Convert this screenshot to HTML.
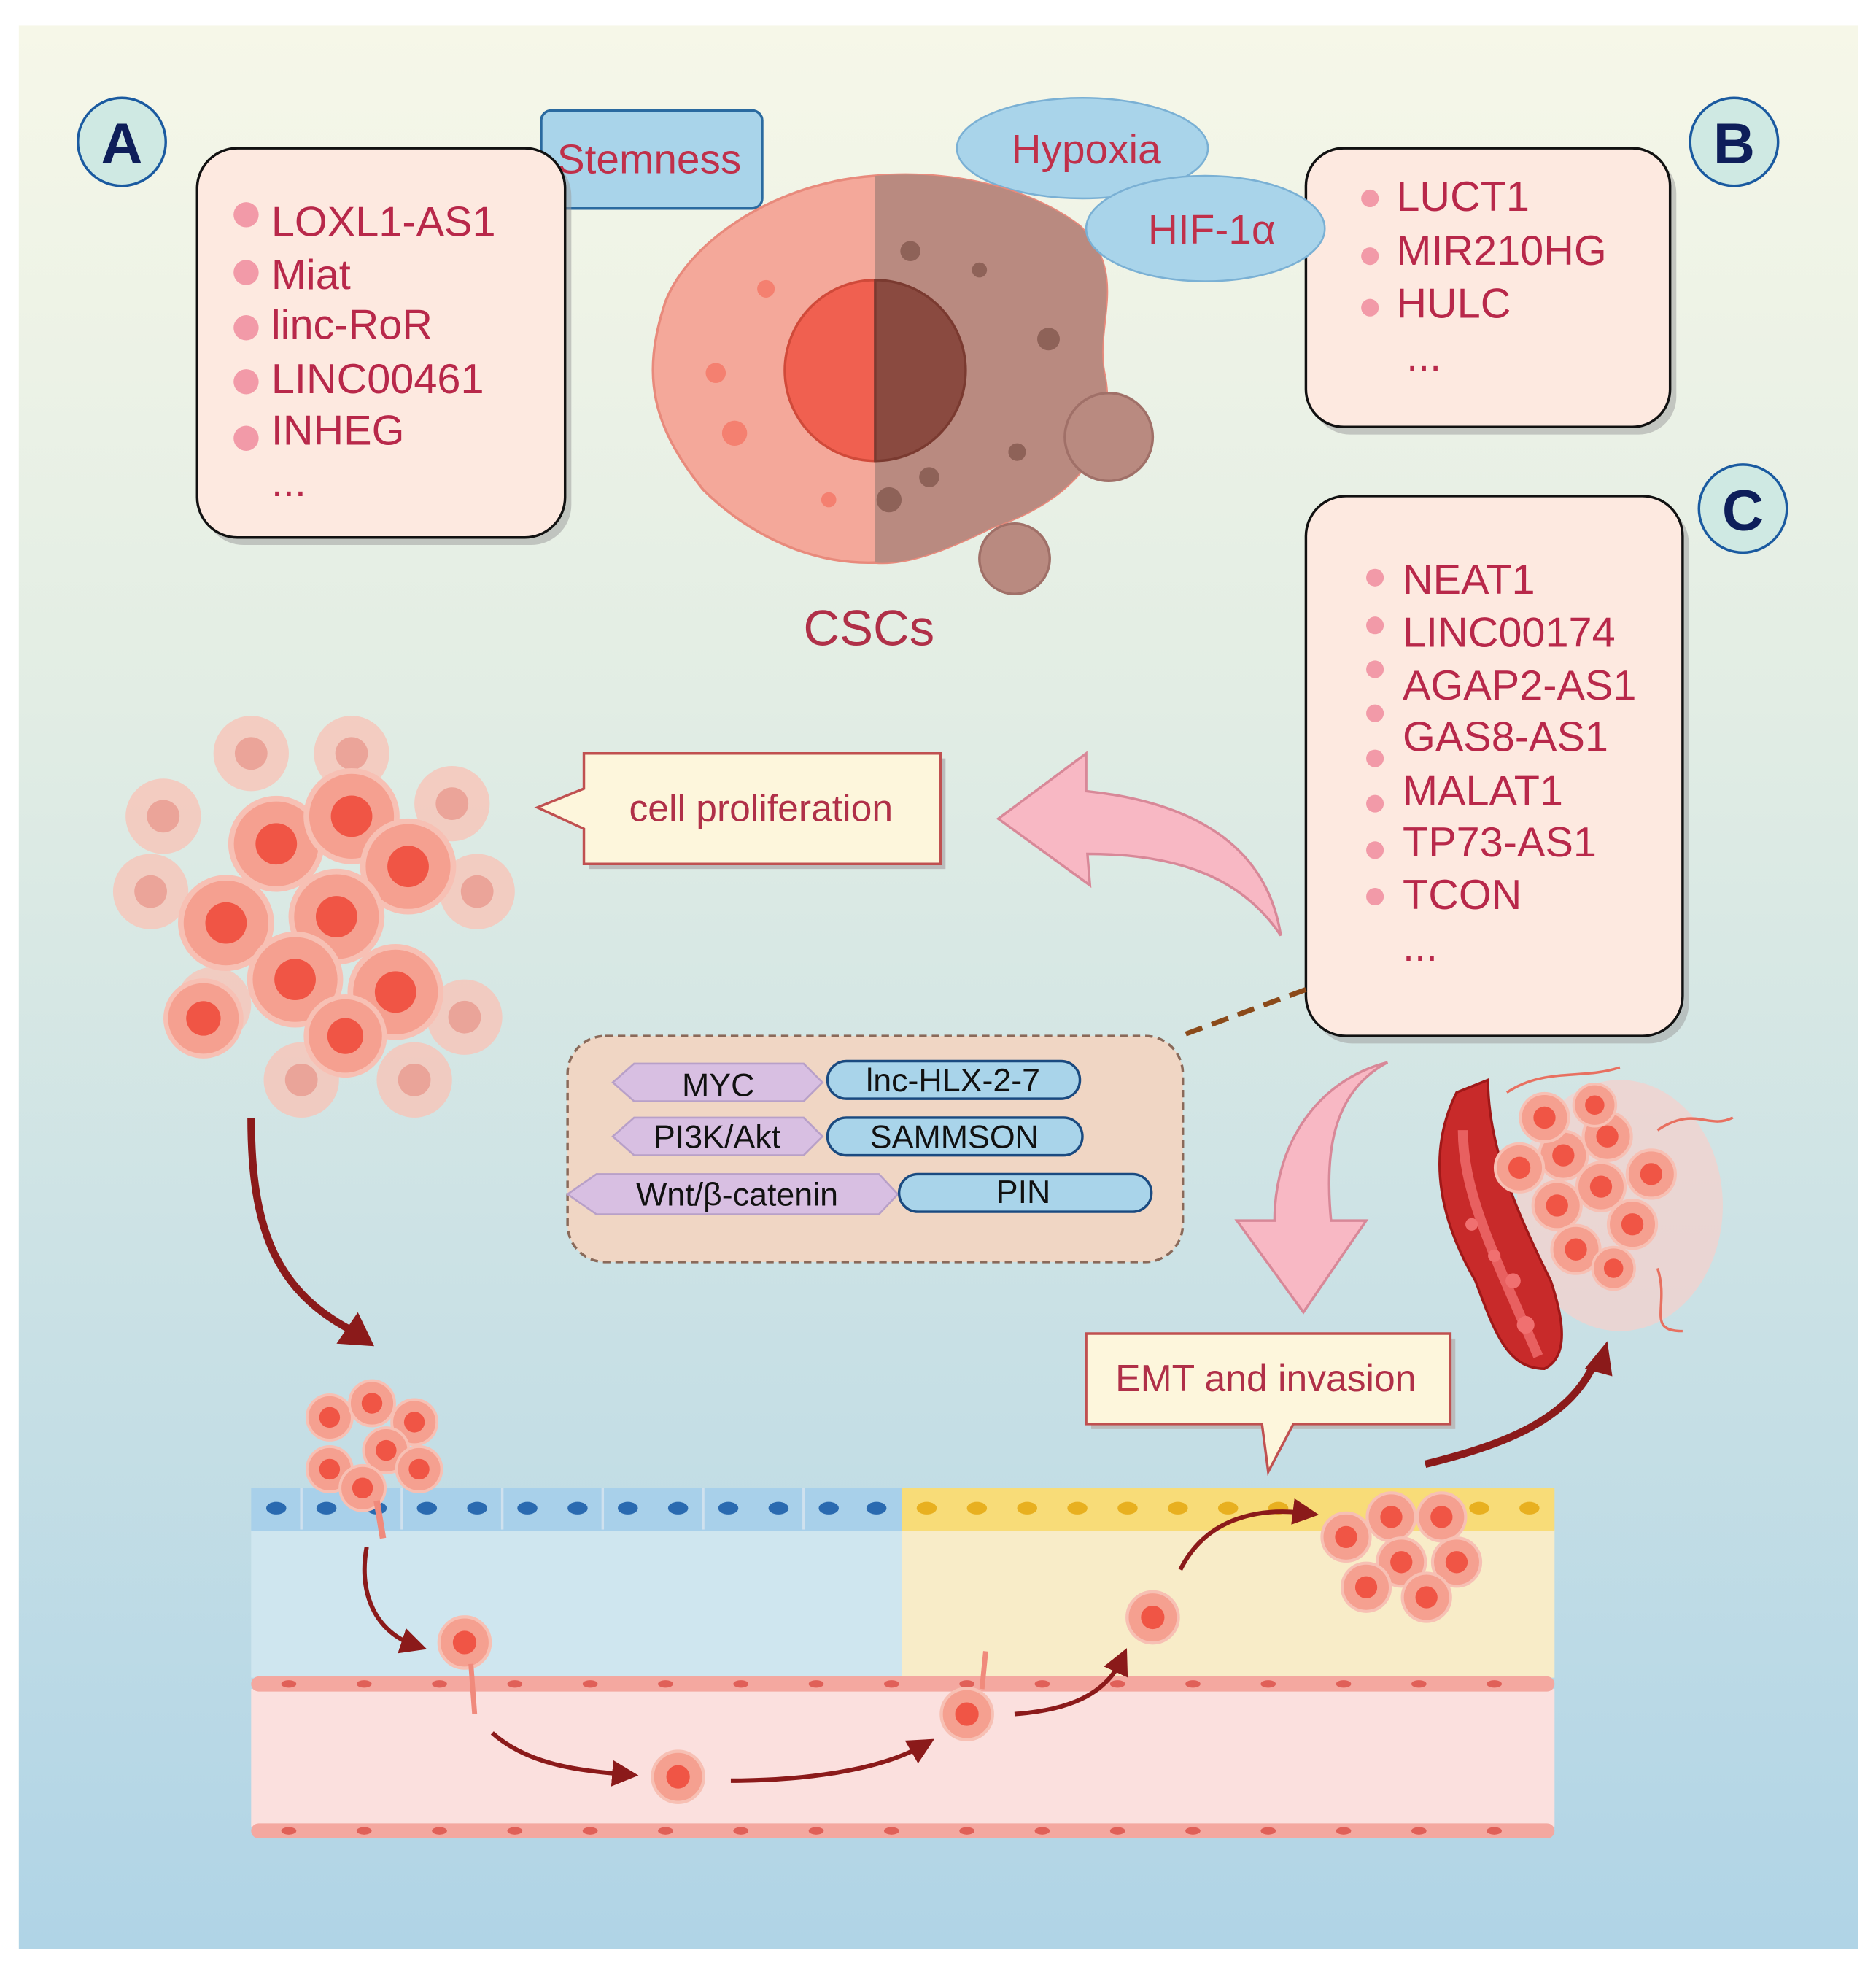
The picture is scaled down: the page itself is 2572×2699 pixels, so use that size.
<!DOCTYPE html>
<html><head><meta charset="utf-8"><style>html,body{margin:0;padding:0;background:#fff}svg{display:block}text{font-family:"Liberation Sans",sans-serif}</style></head><body>
<svg width="2572" height="2699" viewBox="0 0 1494 1568" preserveAspectRatio="none" xmlns="http://www.w3.org/2000/svg">
<defs>
<linearGradient id="bg" x1="0" y1="0" x2="0" y2="1"><stop offset="0" stop-color="#f6f7e8"/><stop offset="0.35" stop-color="#e2ede4"/><stop offset="1" stop-color="#b0d4e6"/></linearGradient>
<marker id="ah" markerWidth="6" markerHeight="6" refX="3" refY="3" orient="auto"><path d="M0,0 L6,3 L0,6 z" fill="#8b1a1a"/></marker>
<g id="c"><circle r="24" fill="#f5a090" stroke="#f7c0b4" stroke-width="3"/><circle r="11" fill="#f05545"/></g>
<g id="cf"><circle r="30" fill="#f8c4b8" opacity="0.8"/><circle r="13" fill="#e89a8e" opacity="0.8"/></g>
</defs>
<rect width="1494" height="1568" fill="#fff"/>
<rect x="15" y="20" width="1465" height="1532" fill="url(#bg)"/>

<!-- A -->
<circle cx="97" cy="113" r="35" fill="#cfe9e3" stroke="#1a5aa0" stroke-width="2"/>
<text x="97" y="130" font-size="46" font-weight="bold" fill="#0e1e5a" text-anchor="middle">A</text>
<rect x="431" y="88" width="176" height="78" rx="8" fill="#a9d4ea" stroke="#2a6aa0" stroke-width="2"/>
<text x="517" y="138" font-size="33" fill="#c0304a" text-anchor="middle">Stemness</text>
<rect x="162" y="124" width="293" height="310" rx="32" fill="#999" opacity="0.5"/>
<rect x="157" y="118" width="293" height="310" rx="32" fill="#fde9e0" stroke="#111" stroke-width="2"/>
<g fill="#f29aa8"><circle cx="196" cy="171" r="10"/><circle cx="196" cy="217" r="10"/><circle cx="196" cy="261" r="10"/><circle cx="196" cy="304" r="10"/><circle cx="196" cy="349" r="10"/></g>
<g font-size="33.5" fill="#b8284a"><text x="216" y="188">LOXL1-AS1</text><text x="216" y="230">Miat</text><text x="216" y="270">linc-RoR</text><text x="216" y="313">LINC00461</text><text x="216" y="354">INHEG</text><text x="216" y="395">...</text></g>

<!-- B -->
<ellipse cx="862" cy="118" rx="100" ry="40" fill="#a9d4ea" stroke="#7ab0d4" stroke-width="1.5"/>
<text x="865" y="130" font-size="33" fill="#c0304a" text-anchor="middle">Hypoxia</text>
<circle cx="1381" cy="113" r="35" fill="#cfe9e3" stroke="#1a5aa0" stroke-width="2"/>
<text x="1381" y="130" font-size="46" font-weight="bold" fill="#0e1e5a" text-anchor="middle">B</text>
<rect x="1045" y="124" width="290" height="222" rx="30" fill="#999" opacity="0.5"/>
<rect x="1040" y="118" width="290" height="222" rx="30" fill="#fde9e0" stroke="#111" stroke-width="2"/>
<g fill="#f29aa8"><circle cx="1091" cy="158" r="7"/><circle cx="1091" cy="204" r="7"/><circle cx="1091" cy="245" r="7"/></g>
<g font-size="33.5" fill="#b8284a"><text x="1112" y="168">LUCT1</text><text x="1112" y="211">MIR210HG</text><text x="1112" y="253">HULC</text><text x="1120" y="295">...</text></g>

<!-- CSC cell -->
<path d="M697,140 C760,135 820,150 860,180 C900,220 870,260 880,300 C890,360 850,400 790,420 C750,440 720,450 697,448 C640,450 590,420 560,390 C520,340 510,300 530,240 C550,190 620,145 697,140 Z" fill="#f4a89a" stroke="#e88a7c" stroke-width="2"/>
<path d="M697,140 C760,135 820,150 860,180 C900,220 870,260 880,300 C890,360 850,400 790,420 C750,440 720,450 697,448 Z" fill="#b98a80"/>
<circle cx="883" cy="348" r="35" fill="#b98a80" stroke="#a07068" stroke-width="2"/>
<circle cx="808" cy="445" r="28" fill="#b98a80" stroke="#a07068" stroke-width="2"/>
<path d="M697,223 A72,72 0 0,0 697,367 Z" fill="#f06050" stroke="#d04a3a" stroke-width="2"/>
<path d="M697,223 A72,72 0 0,1 697,367 Z" fill="#8a4a40" stroke="#7a3a30" stroke-width="2"/>
<g fill="#f48070"><circle cx="570" cy="297" r="8"/><circle cx="585" cy="345" r="10"/><circle cx="610" cy="230" r="7"/><circle cx="660" cy="398" r="6"/></g>
<g fill="#8e6258"><circle cx="725" cy="200" r="8"/><circle cx="835" cy="270" r="9"/><circle cx="810" cy="360" r="7"/><circle cx="740" cy="380" r="8"/><circle cx="780" cy="215" r="6"/><circle cx="708" cy="398" r="10"/></g>
<ellipse cx="960" cy="182" rx="95" ry="42" fill="#a9d4ea" stroke="#7ab0d4" stroke-width="1.5"/>
<text x="965" y="194" font-size="33" fill="#c0304a" text-anchor="middle">HIF-1α</text>
<text x="692" y="514" font-size="40" fill="#b03048" text-anchor="middle">CSCs</text>

<!-- C -->
<circle cx="1388" cy="405" r="35" fill="#cfe9e3" stroke="#1a5aa0" stroke-width="2"/>
<text x="1388" y="422" font-size="46" font-weight="bold" fill="#0e1e5a" text-anchor="middle">C</text>
<rect x="1045" y="401" width="300" height="430" rx="32" fill="#999" opacity="0.5"/>
<rect x="1040" y="395" width="300" height="430" rx="32" fill="#fde9e0" stroke="#111" stroke-width="2"/>
<g fill="#f29aa8"><circle cx="1095" cy="460" r="7"/><circle cx="1095" cy="498" r="7"/><circle cx="1095" cy="533" r="7"/><circle cx="1095" cy="568" r="7"/><circle cx="1095" cy="604" r="7"/><circle cx="1095" cy="640" r="7"/><circle cx="1095" cy="677" r="7"/><circle cx="1095" cy="714" r="7"/></g>
<g font-size="33.5" fill="#b8284a"><text x="1117" y="473">NEAT1</text><text x="1117" y="515">LINC00174</text><text x="1117" y="557">AGAP2-AS1</text><text x="1117" y="598">GAS8-AS1</text><text x="1117" y="641">MALAT1</text><text x="1117" y="682">TP73-AS1</text><text x="1117" y="724">TCON</text><text x="1117" y="765">...</text></g>

<!-- tumour cluster -->
<g>
<use href="#cf" x="130" y="650"/><use href="#cf" x="280" y="600"/><use href="#cf" x="360" y="640"/><use href="#cf" x="120" y="710"/><use href="#cf" x="380" y="710"/><use href="#cf" x="170" y="800"/><use href="#cf" x="370" y="810"/><use href="#cf" x="200" y="600"/><use href="#cf" x="240" y="860"/><use href="#cf" x="330" y="860"/>
<use href="#c" x="160" y="660" transform="translate(-38,-14) scale(1.25)"/>
</g>
<g>
<g transform="translate(220,672) scale(1.5)"><use href="#c"/></g>
<g transform="translate(280,650) scale(1.5)"><use href="#c"/></g>
<g transform="translate(325,690) scale(1.5)"><use href="#c"/></g>
<g transform="translate(180,735) scale(1.5)"><use href="#c"/></g>
<g transform="translate(268,730) scale(1.5)"><use href="#c"/></g>
<g transform="translate(235,780) scale(1.5)"><use href="#c"/></g>
<g transform="translate(315,790) scale(1.5)"><use href="#c"/></g>
<g transform="translate(275,825) scale(1.3)"><use href="#c"/></g>
</g>

<!-- cell proliferation -->
<rect x="469" y="604" width="284" height="88" fill="#bbb"/>
<path d="M465,600 H749 V688 H465 V660 L428,643 L465,628 Z" fill="#fdf6dc" stroke="#c05050" stroke-width="2"/>
<text x="606" y="654" font-size="30" fill="#b03048" text-anchor="middle">cell proliferation</text>
<path d="M1020,745 C1010,680 960,640 865,630 L865,600 L795,652 L868,705 L866,680 C940,680 990,700 1020,745 Z" fill="#f8b8c4" stroke="#d88898" stroke-width="2"/>
<line x1="1040" y1="788" x2="940" y2="825" stroke="#8b4a1a" stroke-width="4" stroke-dasharray="14,8"/>

<!-- pathway box -->
<rect x="452" y="825" width="490" height="180" rx="30" fill="#f0d6c4" stroke="#8a6a5a" stroke-width="2" stroke-dasharray="6,4"/>
<g fill="#d8bfe2" stroke="#b8a0c8" stroke-width="1.5">
<path d="M488,862 L505,847 L640,847 L655,862 L640,877 L505,877 Z"/>
<path d="M488,905 L505,890 L640,890 L655,905 L640,920 L505,920 Z"/>
<path d="M452,951 L475,935 L700,935 L715,951 L700,967 L475,967 Z"/>
</g>
<g fill="#a9d4ea" stroke="#1a4a80" stroke-width="2">
<rect x="659" y="845" width="201" height="30" rx="15"/>
<rect x="659" y="890" width="203" height="30" rx="15"/>
<rect x="716" y="935" width="201" height="30" rx="15"/>
</g>
<g font-size="26" fill="#111" text-anchor="middle">
<text x="572" y="873">MYC</text><text x="759" y="869">lnc-HLX-2-7</text>
<text x="571" y="914">PI3K/Akt</text><text x="760" y="914">SAMMSON</text>
<text x="587" y="960">Wnt/β-catenin</text><text x="815" y="958">PIN</text>
</g>

<path d="M1105,846 C1060,870 1055,920 1060,972 L1088,972 L1038,1045 L985,972 L1015,972 C1015,910 1050,860 1105,846 Z" fill="#f8b8c4" stroke="#d88898" stroke-width="2"/>

<!-- vessel tumour -->
<ellipse cx="1290" cy="960" rx="82" ry="100" fill="#f6d0cc" opacity="0.7"/>
<path d="M1160,870 C1140,910 1140,960 1175,1020 C1190,1060 1200,1090 1230,1090 C1250,1080 1245,1050 1235,1020 C1205,960 1185,910 1185,860 Z" fill="#c82a2a" stroke="#a01818" stroke-width="2"/>
<path d="M1165,900 C1165,950 1190,1000 1225,1080" stroke="#e86060" stroke-width="8" fill="none"/>
<g fill="#f07070"><circle cx="1172" cy="975" r="5"/><circle cx="1190" cy="1000" r="5"/><circle cx="1205" cy="1020" r="6"/><circle cx="1215" cy="1055" r="7"/></g>
<g>
<g transform="translate(1245,920) scale(0.8)"><use href="#c"/></g><g transform="translate(1280,905) scale(0.8)"><use href="#c"/></g><g transform="translate(1315,935) scale(0.8)"><use href="#c"/></g>
<g transform="translate(1210,930) scale(0.8)"><use href="#c"/></g><g transform="translate(1240,960) scale(0.8)"><use href="#c"/></g><g transform="translate(1275,945) scale(0.8)"><use href="#c"/></g>
<g transform="translate(1300,975) scale(0.8)"><use href="#c"/></g><g transform="translate(1255,995) scale(0.8)"><use href="#c"/></g><g transform="translate(1230,890) scale(0.8)"><use href="#c"/></g><g transform="translate(1270,880) scale(0.7)"><use href="#c"/></g><g transform="translate(1285,1010) scale(0.7)"><use href="#c"/></g>
</g>
<path d="M1200,870 C1230,850 1260,860 1290,850 M1320,1010 C1330,1040 1310,1060 1340,1060 M1320,900 C1350,880 1360,900 1380,890" stroke="#e87060" stroke-width="2" fill="none"/>

<!-- EMT callout -->
<rect x="869" y="1066" width="290" height="72" fill="#bbb"/>
<path d="M865,1062 H1155 V1134 H1030 L1010,1172 L1005,1134 H865 Z" fill="#fdf6dc" stroke="#c05050" stroke-width="2"/>
<text x="1008" y="1108" font-size="30" fill="#b03048" text-anchor="middle">EMT and invasion</text>

<path d="M200,890 C200,980 220,1030 285,1062" stroke="#8b1a1a" stroke-width="6" fill="none"/>
<path d="M298,1072 L268,1070 L285,1045 Z" fill="#8b1a1a"/>
<path d="M1135,1166 C1200,1150 1250,1130 1270,1085" stroke="#8b1a1a" stroke-width="6" fill="none"/>
<path d="M1280,1068 L1262,1090 L1284,1096 Z" fill="#8b1a1a"/>

<!-- tissue -->
<rect x="200" y="1218" width="518" height="118" fill="#cfe6ef"/>
<rect x="718" y="1218" width="520" height="118" fill="#f8ecc8"/>
<rect x="200" y="1185" width="518" height="34" fill="#a8d0ea"/>
<rect x="718" y="1185" width="520" height="34" fill="#f8dc78"/>
<g fill="#2a6ab0">
<ellipse cx="220" cy="1201" rx="8" ry="5"/><ellipse cx="260" cy="1201" rx="8" ry="5"/><ellipse cx="300" cy="1201" rx="8" ry="5"/><ellipse cx="340" cy="1201" rx="8" ry="5"/><ellipse cx="380" cy="1201" rx="8" ry="5"/><ellipse cx="420" cy="1201" rx="8" ry="5"/><ellipse cx="460" cy="1201" rx="8" ry="5"/><ellipse cx="500" cy="1201" rx="8" ry="5"/><ellipse cx="540" cy="1201" rx="8" ry="5"/><ellipse cx="580" cy="1201" rx="8" ry="5"/><ellipse cx="620" cy="1201" rx="8" ry="5"/><ellipse cx="660" cy="1201" rx="8" ry="5"/><ellipse cx="698" cy="1201" rx="8" ry="5"/></g>
<g fill="#e8b020">
<ellipse cx="738" cy="1201" rx="8" ry="5"/><ellipse cx="778" cy="1201" rx="8" ry="5"/><ellipse cx="818" cy="1201" rx="8" ry="5"/><ellipse cx="858" cy="1201" rx="8" ry="5"/><ellipse cx="898" cy="1201" rx="8" ry="5"/><ellipse cx="938" cy="1201" rx="8" ry="5"/><ellipse cx="978" cy="1201" rx="8" ry="5"/><ellipse cx="1018" cy="1201" rx="8" ry="5"/><ellipse cx="1178" cy="1201" rx="8" ry="5"/><ellipse cx="1218" cy="1201" rx="8" ry="5"/></g>
<g stroke="#cfe1ee" stroke-width="2">
<line x1="240" y1="1185" x2="240" y2="1218"/><line x1="320" y1="1185" x2="320" y2="1218"/><line x1="400" y1="1185" x2="400" y2="1218"/><line x1="480" y1="1185" x2="480" y2="1218"/><line x1="560" y1="1185" x2="560" y2="1218"/><line x1="640" y1="1185" x2="640" y2="1218"/></g>
<rect x="200" y="1345" width="1038" height="110" fill="#fbe0de"/>
<rect x="200" y="1335" width="1038" height="12" rx="6" fill="#f4a8a0"/>
<rect x="200" y="1452" width="1038" height="12" rx="6" fill="#f4a8a0"/>
<g fill="#e06058">
<ellipse cx="230" cy="1341" rx="6" ry="3"/><ellipse cx="290" cy="1341" rx="6" ry="3"/><ellipse cx="350" cy="1341" rx="6" ry="3"/><ellipse cx="410" cy="1341" rx="6" ry="3"/><ellipse cx="470" cy="1341" rx="6" ry="3"/><ellipse cx="530" cy="1341" rx="6" ry="3"/><ellipse cx="590" cy="1341" rx="6" ry="3"/><ellipse cx="650" cy="1341" rx="6" ry="3"/><ellipse cx="710" cy="1341" rx="6" ry="3"/><ellipse cx="770" cy="1341" rx="6" ry="3"/><ellipse cx="830" cy="1341" rx="6" ry="3"/><ellipse cx="890" cy="1341" rx="6" ry="3"/><ellipse cx="950" cy="1341" rx="6" ry="3"/><ellipse cx="1010" cy="1341" rx="6" ry="3"/><ellipse cx="1070" cy="1341" rx="6" ry="3"/><ellipse cx="1130" cy="1341" rx="6" ry="3"/><ellipse cx="1190" cy="1341" rx="6" ry="3"/>
<ellipse cx="230" cy="1458" rx="6" ry="3"/><ellipse cx="290" cy="1458" rx="6" ry="3"/><ellipse cx="350" cy="1458" rx="6" ry="3"/><ellipse cx="410" cy="1458" rx="6" ry="3"/><ellipse cx="470" cy="1458" rx="6" ry="3"/><ellipse cx="530" cy="1458" rx="6" ry="3"/><ellipse cx="590" cy="1458" rx="6" ry="3"/><ellipse cx="650" cy="1458" rx="6" ry="3"/><ellipse cx="710" cy="1458" rx="6" ry="3"/><ellipse cx="770" cy="1458" rx="6" ry="3"/><ellipse cx="830" cy="1458" rx="6" ry="3"/><ellipse cx="890" cy="1458" rx="6" ry="3"/><ellipse cx="950" cy="1458" rx="6" ry="3"/><ellipse cx="1010" cy="1458" rx="6" ry="3"/><ellipse cx="1070" cy="1458" rx="6" ry="3"/><ellipse cx="1130" cy="1458" rx="6" ry="3"/><ellipse cx="1190" cy="1458" rx="6" ry="3"/></g>

<g transform="scale(0.75)">
<g transform="translate(350,1505)"><use href="#c"/></g><g transform="translate(395,1490)"><use href="#c"/></g><g transform="translate(440,1510)"><use href="#c"/></g><g transform="translate(350,1560)"><use href="#c"/></g><g transform="translate(410,1540)"><use href="#c"/></g><g transform="translate(445,1560)"><use href="#c"/></g><g transform="translate(385,1580)"><use href="#c"/></g>
</g>
<path d="M300,1195 L305,1225" stroke="#f08a7c" stroke-width="5"/>
<g transform="scale(0.8)">
<g transform="translate(1340,1530)"><use href="#c"/></g><g transform="translate(1385,1510)"><use href="#c"/></g><g transform="translate(1435,1510)"><use href="#c"/></g><g transform="translate(1395,1555)"><use href="#c"/></g><g transform="translate(1450,1555)"><use href="#c"/></g><g transform="translate(1360,1580)"><use href="#c"/></g><g transform="translate(1420,1590)"><use href="#c"/></g>
</g>
<g transform="translate(370,1308) scale(0.85)"><use href="#c"/></g>
<g transform="translate(540,1415) scale(0.85)"><use href="#c"/></g>
<g transform="translate(770,1365) scale(0.85)"><use href="#c"/></g>
<g transform="translate(918,1288) scale(0.85)"><use href="#c"/></g>
<path d="M375,1325 L378,1365 M782,1345 L785,1315" stroke="#f08a7c" stroke-width="4"/>

<g stroke="#8b1a1a" stroke-width="3.5" fill="none" marker-end="url(#ah)">
<path d="M292,1232 C285,1270 300,1300 330,1310"/>
<path d="M392,1380 C420,1405 460,1410 498,1413"/>
<path d="M582,1418 C640,1418 700,1410 735,1390"/>
<path d="M808,1365 C850,1362 880,1350 893,1322"/>
<path d="M940,1250 C960,1210 1000,1200 1040,1205"/>
</g>
</svg>
</body></html>
